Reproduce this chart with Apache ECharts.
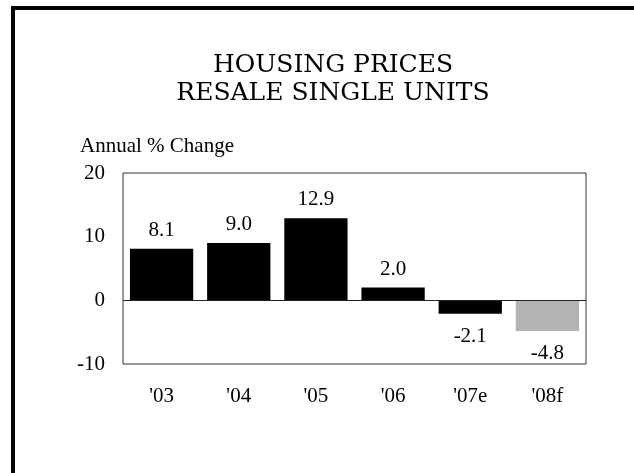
<!DOCTYPE html>
<html>
<head>
<meta charset="utf-8">
<script src="https://cdn.jsdelivr.net/npm/echarts@6/dist/echarts.min.js"></script>
<style>
  html, body { margin: 0; padding: 0; background: #fff; }
  #wrap { position: relative; width: 634px; height: 473px; overflow: hidden; }
  #frame { position: absolute; left: 11px; top: 6px; width: 700px; height: 600px;
           border-left: 4px solid #000; border-top: 4px solid #000; }
  #chart { position: absolute; left: 0; top: 0; width: 634px; height: 473px; }
</style>
</head>
<body>
<div id="wrap">
  <div id="frame"></div>
  <div id="chart"></div>
</div>
<script>
// data
var years = ["'03", "'04", "'05", "'06", "'07e", "'08f"];
var changes = [8.1, 9.0, 12.9, 2.0, -2.1, -4.8];
var yTicks = { min: -10, max: 20, step: 10 };

var serif = '"Liberation Serif", "Times New Roman", serif';

var myChart = echarts.init(document.getElementById('chart'), null, { renderer: 'canvas' });

var option = {
    animation: false,
    backgroundColor: 'transparent',
    title: [{
        text: 'HOUSING PRICES\nRESALE SINGLE UNITS',
        left: 328,
        textAlign: 'center',
        top: 46,
        textStyle: {
            fontFamily: '"DejaVu Serif", serif',
            fontWeight: 'normal',
            fontSize: 25,
            lineHeight: 28,
            color: '#000'
        }
    }, {
        text: 'Annual % Change',
        left: 75,
        top: 131,
        textStyle: {
            fontFamily: serif,
            fontWeight: 'normal',
            fontSize: 21,
            color: '#000'
        }
    }],
    grid: {
        left: 123,
        right: 48,
        top: 173,
        bottom: 109,
        show: true,
        borderColor: '#333',
        borderWidth: 1,
        backgroundColor: 'transparent'
    },
    xAxis: {
        type: 'category',
        data: years,
        axisLine: { show: false },
        axisTick: { show: false },
        axisLabel: {
            margin: 22,
            fontFamily: serif,
            fontSize: 21,
            color: '#000'
        }
    },
    yAxis: {
        type: 'value',
        min: yTicks.min,
        max: yTicks.max,
        interval: yTicks.step,
        axisLine: { show: false },
        axisTick: { show: false },
        splitLine: { show: false },
        axisLabel: {
            margin: 18,
            fontFamily: serif,
            fontSize: 21,
            color: '#000'
        }
    },
    series: [{
        type: 'bar',
        barCategoryGap: '18%',
        itemStyle: {
            color: function (p) {
                return p.dataIndex === changes.length - 1 ? '#b3b3b3' : '#000';
            }
        },
        label: {
            show: true,
            fontFamily: serif,
            fontSize: 21,
            color: '#000',
            formatter: function (p) { return p.value.toFixed(1); }
        },
        markLine: {
            silent: true,
            symbol: 'none',
            label: { show: false },
            lineStyle: { color: '#222', width: 1, type: 'solid' },
            data: [{ yAxis: 0 }]
        },
        // labels above positive bars, below negative ones
        data: changes.map(function (v) {
            return {
                value: v,
                label: v < 0 ? { position: 'bottom', distance: 12 } : { position: 'top', distance: 8 }
            };
        })
    }]
};

myChart.setOption(option);
</script>
</body>
</html>
